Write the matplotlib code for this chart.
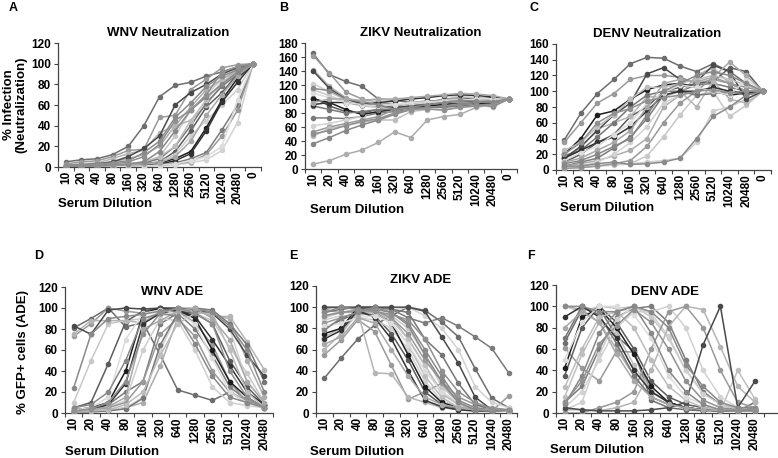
import matplotlib
matplotlib.use("Agg")
import matplotlib.pyplot as plt
from matplotlib.ticker import FixedLocator

plt.rcParams['font.family'] = ['Liberation Sans', 'DejaVu Sans']
plt.rcParams['font.weight'] = 'bold'

# ---------------- DATA ----------------
neut_labels = ["10", "20", "40", "80", "160", "320", "640", "1280", "2560", "5120", "10240", "20480", "0"]
ade_labels = ["10", "20", "40", "80", "160", "320", "640", "1280", "2560", "5120", "10240", "20480"]
ade_labels_f = ade_labels + [""]

wnv_neut = [
    [5, 7, 8, 12, 20, 40, 68, 79, 82, 88, 92, 97, 100],
    [3, 5, 6, 10, 16, 17, 48, 50, 75, 85, 96, 99, 100],
    [2, 3, 4, 8, 13, 16, 33, 40, 45, 60, 80, 95, 100],
    [1, 2, 3, 5, 10, 18, 30, 60, 72, 80, 90, 96, 100],
    [2, 2, 3, 4, 6, 14, 25, 48, 62, 78, 88, 94, 100],
    [1, 1, 1, 2, 2, 3, 10, 30, 55, 70, 85, 95, 100],
    [0, 1, 1, 1, 2, 3, 5, 15, 35, 58, 72, 90, 100],
    [0, 0, 1, 1, 1, 2, 4, 8, 15, 38, 65, 86, 100],
    [0, 0, 0, 1, 1, 2, 3, 6, 13, 35, 63, 82, 100],
    [1, 1, 1, 2, 2, 3, 4, 10, 25, 50, 70, 88, 100],
    [0, 0, 0, 0, 1, 1, 2, 4, 8, 14, 36, 60, 100],
    [0, 0, 0, 0, 0, 1, 1, 2, 4, 7, 16, 43, 100],
    [0, 0, 0, 1, 1, 1, 2, 3, 5, 12, 30, 55, 100],
    [1, 1, 2, 2, 3, 5, 10, 20, 45, 65, 82, 92, 100],
    [0, 1, 1, 2, 3, 5, 15, 35, 55, 68, 80, 92, 100],
    [2, 2, 3, 5, 8, 12, 20, 40, 58, 75, 85, 93, 100],
    [0, 0, 0, 1, 1, 2, 5, 12, 30, 45, 60, 75, 100],
    [1, 1, 1, 1, 2, 4, 8, 20, 40, 62, 78, 90, 100],
    [0, 0, 0, 0, 1, 1, 2, 3, 6, 10, 20, 65, 100],
    [1, 2, 2, 3, 5, 10, 22, 45, 55, 70, 92, 97, 100],
]

zikv_neut = [
    [165, 135, 125, 118, 100, 98, 95, 97, 98, 100, 100, 102, 100],
    [162, 137, 110, 100, 95, 92, 90, 95, 100, 102, 100, 98, 100],
    [142, 118, 102, 95, 92, 90, 88, 90, 92, 95, 93, 88, 100],
    [140, 115, 100, 93, 90, 88, 90, 92, 95, 98, 96, 94, 100],
    [115, 112, 100, 96, 92, 85, 88, 92, 95, 98, 97, 95, 100],
    [113, 105, 95, 90, 88, 86, 88, 90, 95, 97, 99, 96, 100],
    [102, 90, 82, 80, 85, 88, 92, 95, 98, 100, 102, 98, 100],
    [100, 95, 85, 78, 82, 85, 88, 90, 92, 95, 94, 92, 100],
    [92, 95, 95, 92, 95, 97, 100, 102, 105, 106, 105, 103, 100],
    [95, 100, 100, 98, 100, 100, 102, 104, 106, 108, 107, 105, 100],
    [73, 73, 72, 75, 80, 82, 85, 88, 90, 92, 94, 92, 100],
    [62, 65, 70, 75, 85, 88, 92, 95, 98, 100, 98, 95, 100],
    [53, 60, 65, 70, 75, 85, 90, 92, 95, 95, 96, 98, 100],
    [47, 58, 62, 67, 70, 70, 82, 85, 85, 88, 90, 92, 100],
    [36, 45, 55, 63, 70, 78, 85, 88, 90, 92, 95, 96, 100],
    [7, 12, 21, 27, 38, 53, 45, 70, 75, 78, 88, 92, 100],
    [122, 110, 98, 95, 98, 100, 100, 102, 104, 104, 102, 100, 100],
    [90, 85, 80, 82, 85, 85, 87, 88, 88, 90, 92, 90, 100],
    [108, 102, 95, 92, 90, 92, 95, 96, 96, 98, 100, 100, 100],
    [50, 55, 62, 68, 72, 80, 85, 86, 84, 88, 90, 92, 100],
]

denv_neut = [
    [38, 72, 97, 115, 135, 143, 142, 132, 125, 135, 125, 110, 100],
    [35, 60, 85, 97, 115, 120, 120, 118, 110, 115, 110, 100, 100],
    [15, 28, 52, 60, 68, 93, 93, 100, 80, 113, 90, 85, 100],
    [15, 30, 50, 70, 85, 122, 130, 115, 112, 133, 125, 90, 100],
    [5, 5, 8, 10, 7, 8, 10, 15, 40, 68, 80, 95, 100],
    [3, 3, 5, 7, 8, 18, 42, 70, 95, 100, 68, 82, 100],
    [10, 20, 35, 45, 68, 80, 100, 105, 110, 112, 130, 125, 100],
    [20, 40, 70, 75, 90, 102, 108, 110, 105, 100, 95, 98, 100],
    [15, 25, 35, 42, 55, 75, 95, 100, 100, 105, 100, 98, 100],
    [10, 15, 25, 35, 50, 80, 110, 115, 112, 118, 137, 120, 100],
    [5, 10, 15, 28, 42, 65, 95, 100, 108, 110, 105, 100, 100],
    [3, 5, 10, 20, 35, 55, 85, 95, 100, 105, 100, 98, 100],
    [2, 3, 5, 8, 12, 30, 60, 85, 100, 118, 110, 105, 100],
    [25, 35, 55, 70, 90, 105, 105, 110, 115, 120, 115, 108, 100],
    [8, 12, 20, 30, 40, 70, 100, 110, 120, 125, 120, 110, 100],
    [5, 8, 12, 18, 25, 40, 80, 95, 120, 130, 110, 100, 100],
    [3, 4, 5, 6, 8, 10, 12, 15, 35, 75, 80, 90, 100],
    [18, 25, 42, 60, 80, 95, 100, 100, 95, 97, 100, 95, 100],
    [12, 22, 30, 45, 60, 85, 98, 108, 105, 100, 95, 115, 100],
    [20, 35, 60, 72, 78, 88, 92, 95, 100, 102, 98, 100, 100],
]

wnv_ade = [
    [81, 90, 100, 82, 86, 55, 22, 17, 12, 20, 10, 8],
    [73, 85, 100, 97, 95, 98, 97, 86, 65, 30, 10, 7],
    [75, 88, 88, 88, 86, 97, 100, 100, 92, 92, 68, 41],
    [83, 75, 98, 100, 99, 100, 100, 98, 95, 80, 55, 35],
    [24, 75, 90, 92, 94, 97, 99, 99, 96, 83, 60, 20],
    [10, 50, 85, 88, 90, 93, 95, 95, 88, 63, 38, 10],
    [5, 10, 47, 87, 97, 100, 97, 95, 85, 50, 25, 8],
    [3, 5, 10, 40, 95, 100, 98, 90, 60, 30, 15, 5],
    [2, 3, 8, 28, 85, 95, 98, 92, 70, 45, 20, 8],
    [1, 3, 6, 15, 80, 88, 97, 100, 90, 70, 30, 10],
    [3, 4, 8, 20, 30, 85, 95, 80, 55, 25, 12, 5],
    [1, 2, 3, 5, 15, 60, 95, 100, 96, 80, 30, 10],
    [2, 3, 5, 10, 30, 75, 90, 73, 40, 20, 12, 8],
    [1, 2, 3, 8, 20, 55, 85, 95, 95, 60, 20, 5],
    [5, 8, 20, 50, 90, 95, 92, 66, 35, 15, 10, 5],
    [1, 2, 3, 5, 10, 45, 90, 97, 93, 90, 50, 15],
    [2, 3, 5, 12, 60, 90, 88, 60, 25, 10, 7, 5],
    [1, 1, 2, 4, 14, 65, 95, 100, 98, 85, 65, 30],
    [3, 5, 15, 70, 95, 98, 95, 85, 52, 20, 10, 5],
    [2, 4, 10, 30, 75, 95, 100, 95, 85, 40, 15, 5],
]

zikv_ade = [
    [33, 52, 70, 83, 92, 100, 97, 86, 72, 42, 14, 5],
    [55, 69, 88, 77, 45, 13, 20, 28, 10, 3, 2, 16],
    [60, 75, 95, 38, 37, 15, 10, 5, 3, 2, 1, 2],
    [100, 100, 100, 100, 100, 100, 96, 72, 47, 15, 3, 2],
    [95, 100, 98, 98, 95, 85, 60, 35, 12, 5, 3, 3],
    [90, 95, 97, 96, 92, 80, 55, 25, 10, 5, 3, 3],
    [80, 88, 95, 92, 75, 50, 20, 8, 4, 3, 2, 2],
    [75, 80, 100, 95, 85, 55, 25, 10, 5, 3, 2, 2],
    [70, 78, 97, 90, 70, 40, 12, 6, 3, 2, 2, 2],
    [65, 72, 90, 85, 60, 35, 15, 8, 5, 3, 3, 2],
    [98, 100, 98, 100, 98, 90, 85, 90, 82, 72, 61, 38],
    [100, 98, 100, 100, 97, 100, 92, 80, 60, 25, 10, 5],
    [85, 90, 95, 97, 90, 75, 50, 30, 15, 8, 5, 3],
    [92, 95, 98, 95, 85, 65, 35, 15, 5, 3, 2, 2],
    [78, 90, 95, 100, 95, 83, 55, 30, 10, 3, 2, 3],
    [97, 95, 95, 95, 90, 70, 45, 20, 8, 3, 2, 2],
    [88, 92, 90, 88, 80, 60, 30, 12, 5, 3, 2, 2],
    [95, 98, 100, 100, 98, 95, 70, 55, 28, 8, 3, 2],
    [82, 85, 90, 92, 85, 65, 40, 20, 10, 5, 3, 2],
    [92, 95, 97, 96, 93, 88, 70, 40, 20, 10, 4, 3],
    [72, 80, 92, 95, 88, 70, 45, 18, 8, 4, 3, 3],
]

denv_ade = [
    [66, 97, 98, 72, 58, 12, 5, 3, 2, 2, 2, 10],
    [61, 42, 30, 58, 57, 20, 10, 5, 3, 2, 2, 3],
    [3, 3, 2, 5, 10, 40, 81, 100, 97, 62, 25, 10],
    [5, 3, 2, 2, 2, 3, 5, 10, 64, 100, 5, 30],
    [100, 100, 95, 95, 100, 95, 80, 45, 25, 10, 5, 5],
    [100, 95, 100, 98, 100, 90, 70, 40, 20, 8, 5, 5],
    [35, 80, 100, 85, 60, 30, 15, 8, 5, 3, 2, 5],
    [42, 90, 98, 80, 55, 25, 10, 5, 3, 2, 2, 3],
    [90, 100, 90, 70, 40, 20, 10, 5, 3, 2, 2, 2],
    [80, 95, 85, 55, 30, 15, 8, 5, 3, 2, 2, 2],
    [10, 25, 60, 90, 98, 100, 85, 50, 20, 8, 3, 3],
    [5, 20, 50, 80, 95, 95, 100, 80, 40, 15, 5, 5],
    [0, 0, 5, 10, 20, 60, 95, 100, 80, 40, 10, 5],
    [24, 60, 90, 95, 80, 50, 25, 12, 5, 3, 2, 2],
    [8, 35, 75, 95, 100, 75, 40, 20, 8, 3, 2, 2],
    [100, 97, 85, 60, 35, 15, 8, 5, 3, 2, 2, 2],
    [3, 10, 55, 88, 100, 93, 72, 40, 18, 8, 3, 2],
    [70, 100, 92, 65, 35, 15, 8, 5, 3, 2, 2, 2],
    [50, 85, 100, 100, 92, 70, 35, 15, 8, 3, 2, 2],
    [10, 30, 65, 82, 97, 85, 60, 30, 12, 5, 3, 3],
    [15, 55, 85, 75, 45, 20, 10, 5, 3, 2, 40, 13],
]

# ---------------- STYLE ----------------
grays = ["#6e6e6e", "#9a9a9a", "#b5b5b5", "#4a4a4a", "#8a8a8a", "#c8c8c8", "#5c5c5c",
         "#1e1e1e", "#333333", "#a8a8a8", "#7c7c7c", "#d2d2d2", "#999999", "#bdbdbd",
         "#888888", "#adadad", "#cfcfcf", "#777777", "#dcdcdc", "#909090", "#c0c0c0"]

W, H = 778, 458
fig = plt.figure(figsize=(W / 100, H / 100), dpi=100)


def box(x0, x1, ytop, ybot):
    return [x0 / W, 1 - ybot / H, (x1 - x0) / W, (ybot - ytop) / H]


def panel(rect, series, labels, ymax, ystep, npts):
    ax = fig.add_axes(rect)
    n = len(labels)
    xs = list(range(npts))
    for i, s in enumerate(series):
        c = grays[i % len(grays)]
        ax.plot(xs, s, color=c, lw=1.1, marker='o', ms=3.0, mec=c, mfc=c, zorder=2 + (i % 5))
    ax.set_xlim(-0.5, n - 0.5)
    ax.set_ylim(0, ymax)
    ax.set_yticks(list(range(0, ymax + 1, ystep)))
    ax.set_xticks(list(range(n)))
    ax.set_xticklabels(labels, rotation=90, fontsize=8.5, fontweight='bold')
    ax.xaxis.set_minor_locator(FixedLocator([k - 0.5 for k in range(n + 1)]))
    ax.tick_params(axis='x', which='major', length=0, pad=3)
    ax.tick_params(axis='x', which='minor', length=3, width=0.8, color='#444444', direction='out')
    ax.tick_params(axis='y', length=3, width=0.8, color='#444444', labelsize=8.5, pad=2)
    for lab in ax.get_yticklabels():
        lab.set_fontweight('bold')
    for sp in ['top', 'right']:
        ax.spines[sp].set_visible(False)
    for sp in ['left', 'bottom']:
        ax.spines[sp].set_color('#444444')
        ax.spines[sp].set_linewidth(0.9)
    return ax


panel(box(58, 261, 43, 167), wnv_neut, neut_labels, 120, 20, 13)
panel(box(305, 517, 43, 169), zikv_neut, neut_labels, 180, 20, 13)
panel(box(556, 771, 44, 170), denv_neut, neut_labels, 160, 20, 13)
panel(box(65, 273, 287, 413), wnv_ade, ade_labels, 120, 20, 12)
panel(box(316, 517, 286, 413), zikv_ade, ade_labels, 120, 20, 12)
panel(box(556, 781, 285, 413), denv_ade, ade_labels_f, 120, 20, 12)


def ftext(px, py, s, **kw):
    fig.text(px / W, 1 - py / H, s, fontweight='bold', **kw)


# panel letters
for (px, py, s) in [(9, 8, "A"), (279, 8, "B"), (529, 8, "C"),
                    (34, 256, "D"), (289, 256, "E"), (527, 256, "F")]:
    ftext(px, py, s, fontsize=9, va='center', ha='left')

# titles
for (px, py, s) in [(168, 33, "WNV Neutralization"), (421, 33, "ZIKV Neutralization"),
                    (657, 34, "DENV Neutralization"), (172, 292, "WNV ADE"),
                    (421, 280, "ZIKV ADE"), (665, 292, "DENV ADE")]:
    ftext(px, py, s, fontsize=9.5, va='center', ha='center')

# x labels
for (px, py) in [(58, 204), (310, 210), (560, 208), (65, 452), (310, 452), (550, 450)]:
    ftext(px, py, "Serum Dilution", fontsize=9.5, va='center', ha='left')

# y labels
ftext(15, 105, "% Infection\n(Neutralization)", fontsize=9.5, va='center', ha='center',
      rotation=90, linespacing=1.1)
ftext(23, 352, "% GFP+ cells (ADE)", fontsize=9.5, va='center', ha='center', rotation=90)

fig.savefig("out.png", dpi=100)
